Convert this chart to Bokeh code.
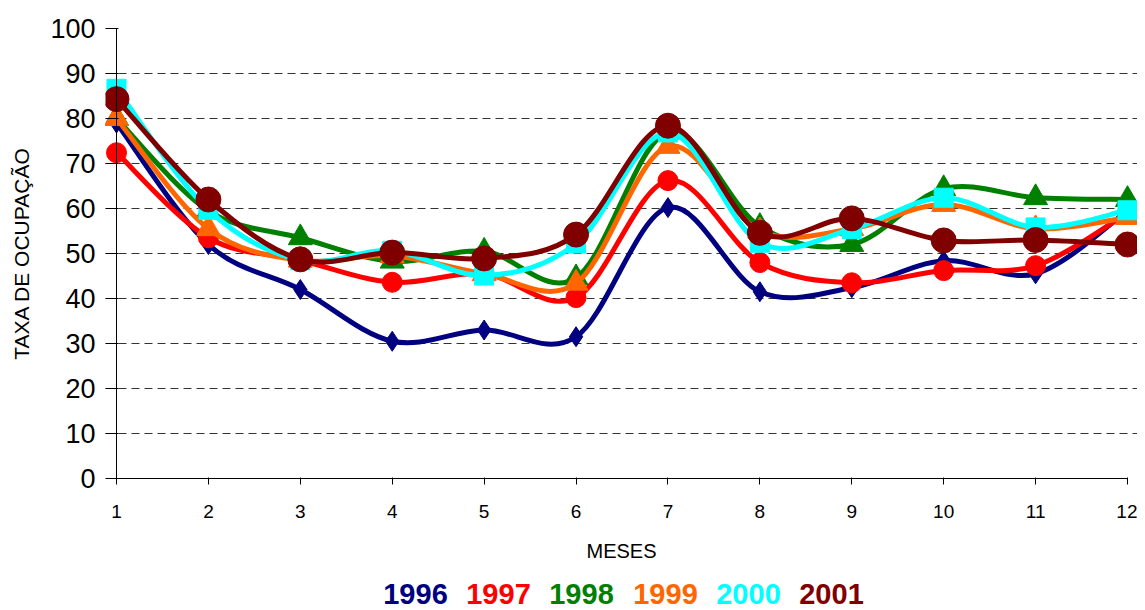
from bokeh.plotting import figure
from bokeh.models import Range1d, FixedTicker, Span
from bokeh.layouts import column
from bokeh.embed import file_html
from bokeh.resources import INLINE

months = [1, 2, 3, 4, 5, 6, 7, 8, 9, 10, 11, 12]
y_ticks = [0, 10, 20, 30, 40, 50, 60, 70, 80, 90, 100]

s1996 = [79, 52, 42, 30.5, 33, 31.5, 60.2, 41.5, 42.4, 48.4, 45.5, 59.5]
s1997 = [72.4, 53.5, 48.5, 43.6, 45.5, 40.2, 66.2, 48.0, 43.5, 46.2, 47.3, 59.0]
s1998 = [80, 59.5, 53.5, 48.3, 50.5, 44.6, 77.0, 56.0, 52.0, 64.4, 62.4, 62.0]
s1999 = [80, 55.5, 48.5, 49.5, 45.5, 43.4, 73.8, 55.0, 55.5, 60.9, 55.5, 58.0]
s2000 = [86.6, 59.7, 48.5, 50.6, 45.1, 52.2, 76.9, 52.4, 55.4, 62.4, 55.8, 59.6]
s2001 = [84.3, 62.0, 48.7, 50.2, 48.9, 54.2, 78.4, 54.6, 57.8, 52.9, 53.0, 52.0]

years = ["1996", "1997", "1998", "1999", "2000", "2001"]
colors = ["#000080", "#FF0000", "#008000", "#FF6600", "#00FFFF", "#800000"]
series = [s1996, s1997, s1998, s1999, s2000, s2001]
markers = ["diamond", "circle", "triangle", "triangle", "square", "circle"]
msizes = [20, 20, 24, 24, 19, 25]
x_title = "MESES"
y_title = "TAXA DE OCUPAÇÃO"

FONT = "Liberation Sans"

p = figure(frame_width=1032, frame_height=450, output_backend="svg",
           toolbar_location=None, title=None,
           x_range=Range1d(1 - 0.1197, 12 + 0.1088), y_range=Range1d(0, 100),
           min_border_left=105, min_border_right=0, min_border_top=28,
           min_border_bottom=60)
p.outline_line_color = None
p.background_fill_color = "white"
p.border_fill_color = "white"

# x axis
p.xaxis.ticker = FixedTicker(ticks=months)
p.xaxis.bounds = (1, 12)
p.xaxis.axis_line_color = "black"
p.xaxis.major_tick_in = 1
p.xaxis.major_tick_out = 6
p.xaxis.minor_tick_line_color = None
p.xaxis.major_label_text_font = FONT
p.xaxis.major_label_text_font_size = "19px"
p.xaxis.major_label_text_color = "black"
p.xaxis.major_label_standoff = 20

# y axis (ticks reach in to the axis line drawn at month 1)
p.yaxis.ticker = FixedTicker(ticks=y_ticks)
p.yaxis.axis_line_color = None
p.yaxis.major_tick_in = 13
p.yaxis.major_tick_out = 0
p.yaxis.major_tick_line_color = "black"
p.yaxis.minor_tick_line_color = None
p.yaxis.major_label_text_font = FONT
p.yaxis.major_label_text_font_size = "27px"
p.yaxis.major_label_text_color = "black"
p.yaxis.major_label_standoff = 10
p.yaxis.axis_label = y_title
p.yaxis.axis_label_text_font = FONT
p.yaxis.axis_label_text_font_size = "21px"
p.yaxis.axis_label_text_font_style = "normal"
p.yaxis.axis_label_text_color = "black"
p.yaxis.axis_label_standoff = 14

p.xgrid.grid_line_color = None
p.ygrid.ticker = FixedTicker(ticks=y_ticks)
p.ygrid.grid_line_color = "#333333"
p.ygrid.grid_line_dash = "8 5"
p.ygrid.grid_line_width = 1

p.add_layout(Span(location=months[0], dimension="height",
                  line_color="black", line_width=1))


def smooth_segments(xs, ys, t=1.0 / 6.0):
    n = len(xs)
    x0, y0, x1, y1, cx0, cy0, cx1, cy1 = [], [], [], [], [], [], [], []
    for i in range(n - 1):
        ip = max(i - 1, 0)
        inn = min(i + 2, n - 1)
        x0.append(xs[i]); y0.append(ys[i])
        x1.append(xs[i + 1]); y1.append(ys[i + 1])
        cx0.append(xs[i] + (xs[i + 1] - xs[ip]) * t)
        cy0.append(ys[i] + (ys[i + 1] - ys[ip]) * t)
        cx1.append(xs[i + 1] - (xs[inn] - xs[i]) * t)
        cy1.append(ys[i + 1] - (ys[inn] - ys[i]) * t)
    return dict(x0=x0, y0=y0, x1=x1, y1=y1, cx0=cx0, cy0=cy0, cx1=cx1, cy1=cy1)


for vals, col, mk, ms in zip(series, colors, markers, msizes):
    seg = smooth_segments(months, vals)
    p.bezier(x0=seg["x0"], y0=seg["y0"], x1=seg["x1"], y1=seg["y1"],
             cx0=seg["cx0"], cy0=seg["cy0"], cx1=seg["cx1"], cy1=seg["cy1"],
             line_color=col, line_width=5, line_cap="round")
    p.scatter(months, vals, marker=mk, size=ms, fill_color=col, line_color=col)

# strip below the chart: x-axis title and coloured year labels; its frame
# matches the chart's frame horizontally so x is in page pixels
leg = figure(frame_width=1032, frame_height=68, output_backend="svg",
             toolbar_location=None, title=None,
             x_range=Range1d(105, 1137), y_range=Range1d(0, 68),
             x_axis_location=None, y_axis_location=None,
             min_border_left=105, min_border_right=0,
             min_border_top=0, min_border_bottom=0)
leg.outline_line_color = None
leg.grid.grid_line_color = None
leg.border_fill_color = "white"
leg.text(x=[621], y=[56], text=[x_title], text_color="black",
         text_font_size="20px", text_align="center", text_baseline="middle",
         text_font={"value": FONT})
leg_x = [415, 498, 581, 665, 748, 831]
leg.text(x=leg_x, y=[13] * len(years), text=years, text_color=colors,
         text_font_size="29px", text_font_style="bold",
         text_align="center", text_baseline="middle",
         text_font={"value": FONT})

layout = column(p, leg, spacing=0)
open("out.html", "w").write(file_html(layout, INLINE))
